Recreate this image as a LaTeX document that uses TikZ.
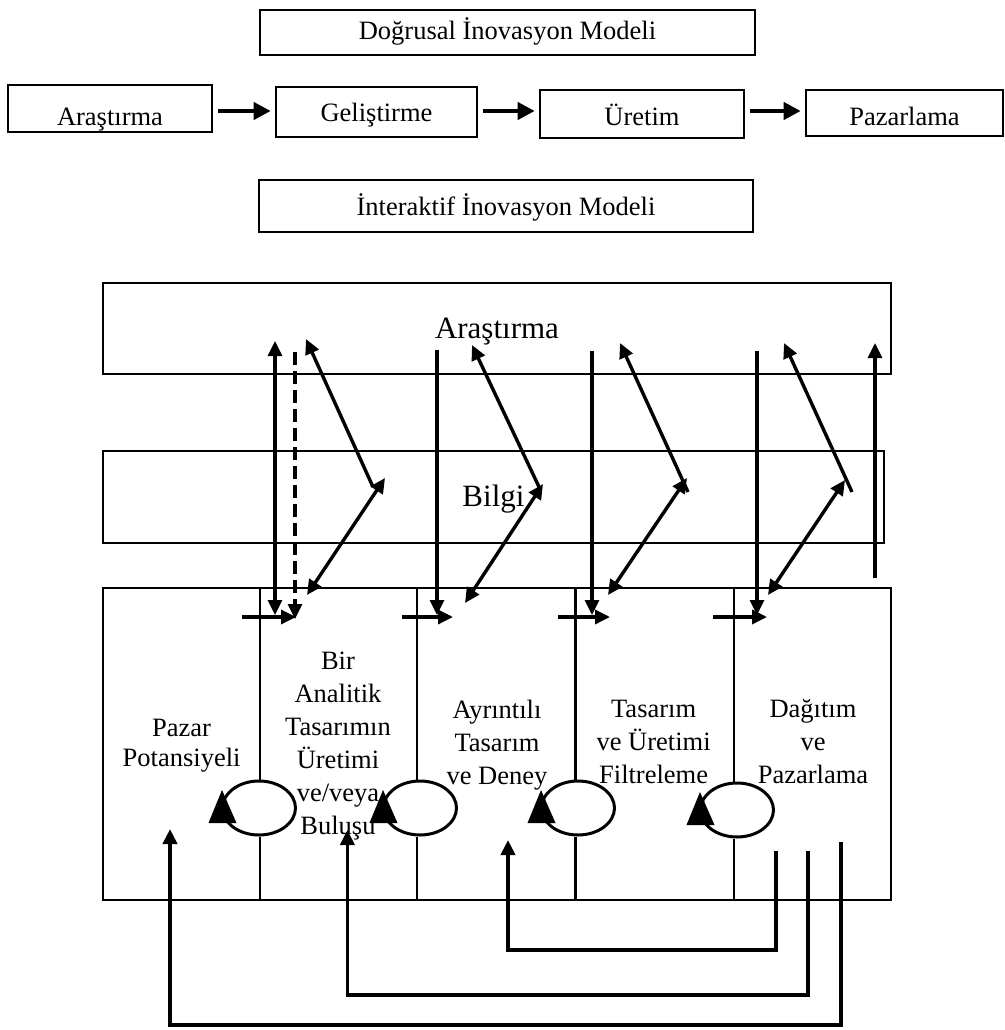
\documentclass[tikz,border=0pt]{standalone}
\usepackage{fontspec}
\setmainfont{Liberation Serif}
\usetikzlibrary{arrows.meta,shapes.geometric}
\begin{document}
\begin{tikzpicture}[x=1pt,y=-1pt,
  lbl/.style={font=\fontsize{26.5}{33}\selectfont},
  biglbl/.style={font=\fontsize{31}{37}\selectfont},
  box/.style={draw, line width=2.6pt, inner sep=0pt, text depth=0pt},
  hd/.style={-{Triangle[length=15pt,width=14pt]}},
  dhd/.style={{Triangle[length=15pt,width=14pt]}-{Triangle[length=15pt,width=14pt]}},
  flow/.style={line width=4pt,-{Triangle[length=17pt,width=17pt]},shorten <=5pt,shorten >=4pt},
  vline/.style={line width=3.2pt},
  diag/.style={line width=3.4pt},
  divider/.style={line width=2.4pt},
  loopell/.style={draw, ellipse, line width=3pt, fill=white, minimum width=73pt, minimum height=54pt, inner sep=0pt},
  fb/.style={line width=3.8pt, line join=miter},
  coltext/.style={lbl, align=center, inner sep=0pt}
]
\useasboundingbox (0,0) rectangle (1004,1030);

% ---- linear model ----
\node[box,lbl,minimum width=495pt,minimum height=45pt,text height=15pt] (lin) at (507.5,32.5) {Doğrusal İnovasyon Modeli};
\node[box,lbl,minimum width=204pt,minimum height=47pt,text height=33pt] (r1) at (110,108.5) {Araştırma};
\node[box,lbl,minimum width=201pt,minimum height=50pt,text height=19.4pt] (r2) at (376.5,112) {Geliştirme};
\node[box,lbl,minimum width=204pt,minimum height=48pt,text height=22pt] (r3) at (642,114) {Üretim};
\node[box,lbl,minimum width=197pt,minimum height=46pt,text height=24pt] (r4) at (904.5,113) {Pazarlama};
\coordinate (arow) at (0,111);
\draw[flow] (r1.east |- arow) -- (r2.west |- arow);
\draw[flow] (r2.east |- arow) -- (r3.west |- arow);
\draw[flow] (r3.east |- arow) -- (r4.west |- arow);

% ---- interactive model ----
\node[box,lbl,minimum width=494pt,minimum height=52pt,text height=18pt] (int) at (506,206) {İnteraktif İnovasyon Modeli};
\node[box,biglbl,minimum width=788pt,minimum height=91pt,text height=19pt] (ar) at (497,328.5) {Araştırma};
\node[box,biglbl,minimum width=781pt,minimum height=92pt,text height=19.4pt] (bi) at (493.5,497) {Bilgi};
\node[draw,line width=2.6pt,minimum width=788pt,minimum height=312pt,inner sep=0pt] (mb) at (497,744) {};

% dividers and loops
\coordinate (d1t) at (260,588);   \coordinate (d1b) at (260,900);
\coordinate (d2t) at (417,588);   \coordinate (d2b) at (417,900);
\coordinate (d3t) at (575.5,588); \coordinate (d3b) at (575.5,900);
\coordinate (d4t) at (734,588);   \coordinate (d4b) at (734,900);
\node[loopell] (e1) at (259,808) {};
\node[loopell] (e2) at (420,808) {};
\node[loopell] (e3) at (578,808) {};
\node[loopell] (e4) at (737,810) {};
\foreach \i in {1,2,3,4}{
  \draw[divider] (d\i t) -- (d\i t |- e\i.north);
  \draw[divider] (d\i t |- e\i.south) -- (d\i b);
  \fill ([shift={(-37,-18)}]e\i.center) -- ++(-13.5,33) -- ++(28,0) -- cycle;
}

% column texts
\node[coltext] (c1) at (181.6,745.8) {Pazar\\[-3pt]Potansiyeli};
\node[coltext] (c2) at (338,745.8) {Bir\\Analitik\\Tasarımın\\Üretimi\\ve/veya\\Buluşu};
\node[coltext] (c3) at (497,744.7) {Ayrıntılı\\Tasarım\\ve Deney};
\node[coltext] (c4) at (653.6,742) {Tasarım\\ve Üretimi\\Filtreleme};
\node[coltext] (c5) at (813,741.7) {Dağıtım\\ve\\Pazarlama};

% group 1
\coordinate (v1t) at (275,341); \coordinate (v1b) at (275,615);
\coordinate (ds1t) at (295,352); \coordinate (ds1b) at (295,619);
\coordinate (u1t) at (306,339); \coordinate (u1v) at (373,487);
\coordinate (l1b) at (307,595); \coordinate (l1v) at (385,478);
% group 2
\coordinate (v2t) at (437,350); \coordinate (v2b) at (437,615);
\coordinate (u2t) at (472,345); \coordinate (u2v) at (540,489);
\coordinate (l2b) at (465,603); \coordinate (l2v) at (543,484);
% group 3
\coordinate (v3t) at (592,351); \coordinate (v3b) at (592,615);
\coordinate (u3t) at (620,343); \coordinate (u3v) at (688,492);
\coordinate (l3b) at (608,595); \coordinate (l3v) at (687,478);
% group 4
\coordinate (v4t) at (757,351); \coordinate (v4b) at (757,615);
\coordinate (u4t) at (784,343); \coordinate (u4v) at (852,492);
\coordinate (l4b) at (768,595); \coordinate (l4v) at (845,480);
% rightmost
\coordinate (v5b) at (875,578); \coordinate (v5t) at (875,343);
% short horizontals
\coordinate (h1a) at (242,617); \coordinate (h1b) at (296,617);
\coordinate (h2a) at (402,617); \coordinate (h2b) at (453,617);
\coordinate (h3a) at (558,617); \coordinate (h3b) at (610,617);
\coordinate (h4a) at (713,617); \coordinate (h4b) at (767,617);

\draw[vline,dhd] (v1t) -- (v1b);
\draw[vline,hd,dash pattern=on 13pt off 6pt] (ds1t) -- (ds1b);
\foreach \i in {2,3,4}{ \draw[vline,hd] (v\i t) -- (v\i b); }
\draw[vline,hd] (v5b) -- (v5t);
\foreach \i in {1,2,3,4}{
  \draw[diag,hd] (u\i v) -- (u\i t);
  \draw[diag,dhd] (l\i b) -- (l\i v);
  \draw[diag,hd] (h\i a) -- (h\i b);
}

% feedback loops
\coordinate (f1s) at (776,851);   \coordinate (f1c) at (508,950);   \coordinate (f1e) at (508,840);
\coordinate (f2s) at (807.6,851); \coordinate (f2c) at (347.4,995); \coordinate (f2e) at (347.4,830);
\coordinate (f3s) at (840.8,842); \coordinate (f3c) at (170,1025);  \coordinate (f3e) at (170,829);
\draw[fb,hd] (f1s) |- (f1c) -- (f1e);
\draw[fb,hd] (f2s) |- (f2c) -- (f2e);
\draw[fb,hd] (f3s) |- (f3c) -- (f3e);
\end{tikzpicture}
\end{document}
